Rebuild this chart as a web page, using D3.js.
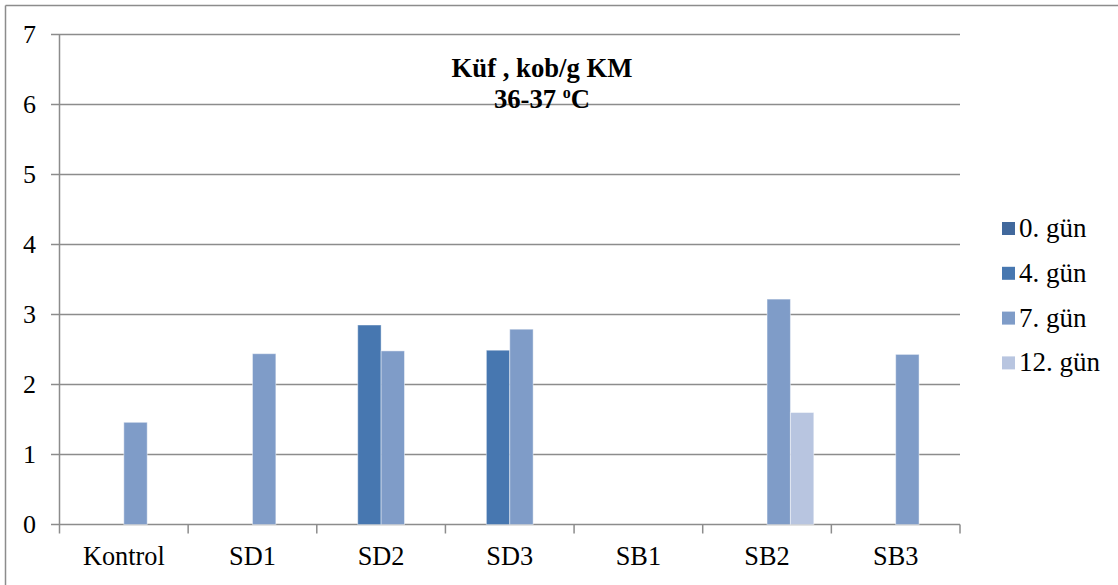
<!DOCTYPE html>
<html><head><meta charset="utf-8">
<script src="https://cdn.jsdelivr.net/npm/d3@7"></script>
<style>
html,body{margin:0;padding:0;background:#fff;}
svg{display:block;font-family:"Liberation Serif","Times New Roman",serif;}
</style></head>
<body>
<svg id="chart" width="1118" height="585"></svg>
<script>
const categories = ["Kontrol","SD1","SD2","SD3","SB1","SB2","SB3"];
const seriesNames = ["0. gün","4. gün","7. gün","12. gün"];
const gun0  = [0,0,0,0,0,0,0];
const gun4  = [0,0,2.85,2.49,0,0,0];
const gun7  = [1.46,2.44,2.48,2.79,0,3.22,2.43];
const gun12 = [0,0,0,0,0,1.60,0];
const yTicks = [0,1,2,3,4,5,6,7];
const colors = ["#41689c","#4777b0","#7f9cc8","#b8c5e0"];
const seriesValues = [gun0,gun4,gun7,gun12];

const svg = d3.select("#chart");
const L = 59.5, R = 960, T = 34.5, B = 524.5;
const gridC = "#8c8c8c";

// outer frame (left and top only visible)
svg.append("line").attr("x1",5.5).attr("x2",5.5).attr("y1",5.5).attr("y2",585).attr("stroke","#8c8c8c").attr("stroke-width",1.5);
svg.append("line").attr("x1",5.5).attr("x2",1118).attr("y1",5.5).attr("y2",5.5).attr("stroke","#8c8c8c").attr("stroke-width",1.5);

const x = d3.scaleBand().domain(categories).range([L,R]).paddingInner(0).paddingOuter(0);
const y = d3.scaleLinear().domain([0,7]).range([B,T]);
const cw = x.bandwidth();
const bw = cw/5.5;
const xs = d3.scaleBand().domain(seriesNames).range([0,bw*4]);

// gridlines
svg.append("g").selectAll("line").data(yTicks).join("line")
  .attr("x1",L-8.5).attr("x2",R).attr("y1",d=>y(d)).attr("y2",d=>y(d))
  .attr("stroke",gridC).attr("stroke-width",1.5);

// y axis line
svg.append("line").attr("x1",L).attr("x2",L).attr("y1",T).attr("y2",B).attr("stroke",gridC).attr("stroke-width",1.5);
// x category ticks
const bounds = d3.range(categories.length+1).map(i=>L+i*cw);
svg.append("g").selectAll("line").data(bounds).join("line")
  .attr("x1",d=>d).attr("x2",d=>d).attr("y1",B).attr("y2",B+9)
  .attr("stroke",gridC).attr("stroke-width",1.5);

// y tick labels
svg.append("g").selectAll("text").data(yTicks).join("text")
  .attr("x",36).attr("y",d=>y(d)).attr("dy","0.34em")
  .attr("text-anchor","end").attr("font-size",26).attr("fill","#000").text(d=>d);

// category labels
svg.append("g").selectAll("text").data(categories).join("text")
  .attr("x",d=>x(d)+cw/2).attr("y",565)
  .attr("text-anchor","middle").attr("font-size",26.3).attr("fill","#000").text(d=>d);

// bars
seriesNames.forEach((s,si)=>{
  const vals = seriesValues[si];
  svg.append("g").selectAll("rect").data(categories.map((c,i)=>({c,v:vals[i]})).filter(d=>d.v>0)).join("rect")
    .attr("x",d=>x(d.c)+cw/2-2*bw+xs(s))
    .attr("width",bw)
    .attr("y",d=>y(d.v))
    .attr("height",d=>y(0)-y(d.v))
    .attr("fill",colors[si])
    .attr("stroke","rgba(255,255,255,0.45)").attr("stroke-width",1);
});

// title
const t1 = svg.append("text").attr("x",542).attr("y",77).attr("text-anchor","middle")
  .attr("font-size",26.7).attr("font-weight","bold").text("Küf , kob/g KM");
const t2 = svg.append("text").attr("x",542).attr("y",108).attr("text-anchor","middle")
  .attr("font-size",26.7).attr("font-weight","bold");
t2.append("tspan").text("36-37 ");
t2.append("tspan").attr("font-size",16).attr("dy",-10).text("o");
t2.append("tspan").attr("dy",10).text("C");

// legend
const lg = svg.append("g");
seriesNames.forEach((s,i)=>{
  const yy = 237 + i*44.8;
  lg.append("rect").attr("x",1002).attr("y",yy-15).attr("width",13).attr("height",13).attr("fill",colors[i]);
  lg.append("text").attr("x",1019).attr("y",yy).attr("font-size",27).attr("fill","#000").text(s);
});
</script>
</body></html>
